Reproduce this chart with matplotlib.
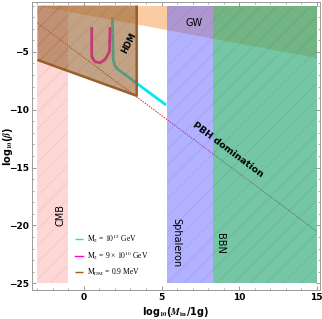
import matplotlib
matplotlib.use('Agg')
import matplotlib.pyplot as plt
from matplotlib.ticker import MultipleLocator

# ---- data ----
cmb_x = [-3, -1]
sph_x = [5.35, 8.3]
bbn_x = [8.3, 15]
band_y = [-25, -1]
gw_x = [-3, 15]
gw_lower = [-1.0, -5.5]
hdm_x = [-3, 3.4, 3.4, -3]
hdm_y = [-1, -1, -8.8, -5.7]
pbh_x = [-3, 15]
pbh_y = [-2.5, -20.5]
cyan_x = [1.83, 1.86, 1.89, 1.98, 2.11, 2.76, 3.4, 5.3]
cyan_y = [-1.98, -4.0, -5.72, -6.15, -6.43, -7.08, -7.72, -9.6]
mag_x = [0.50, 0.50, 0.71, 1.03, 1.36, 1.64, 1.68]
mag_y = [-2.98, -5.43, -5.86, -5.95, -5.66, -5.0, -2.98]
xticks = [0, 5, 10, 15]
yticks = [-5, -10, -15, -20, -25]
legend_labels = [r'$\mathrm{M_2}$ = $\mathrm{10^{12}}$ GeV',
                 r'$\mathrm{M_2}$ = 9 × $\mathrm{10^{10}}$ GeV',
                 r'$\mathrm{M_{DM}}$ = 0.9 MeV']

plt.rcParams['mathtext.fontset'] = 'stix'
plt.rcParams['hatch.linewidth'] = 0.5

fig = plt.figure(figsize=(3.22, 3.19), dpi=100)
ax = fig.add_axes([0.0994, 0.0909, 0.893, 0.904])

mesh = dict(facecolor='none', edgecolor=(0, 0, 0, 0.08), hatch='//', lw=0)

# PBH domination line (underneath shaded regions)
ax.plot(pbh_x, pbh_y, color='#e02020', lw=0.7, ls=(0, (1.5, 1.2)), zorder=1)
l_c, = ax.plot(cyan_x, cyan_y, color='#00e8f0', lw=2.0, zorder=1.5, solid_capstyle='butt')
l_m, = ax.plot(mag_x, mag_y, color='#ff00d8', lw=2.0, zorder=1.5)

# regions
ax.fill_between(cmb_x, band_y[0], band_y[1], color='#ff8a8a', alpha=0.35, lw=0, zorder=2)
ax.fill_between(gw_x, gw_lower, band_y[1], color='#f59a45', alpha=0.5, lw=0, zorder=2.1)
ax.fill_between(sph_x, band_y[0], band_y[1], color='#6464ff', alpha=0.5, lw=0, zorder=2.2)
ax.fill_between(bbn_x, band_y[0], band_y[1], color='#2aa874', alpha=0.65, lw=0, zorder=2.3)
ax.fill(hdm_x, hdm_y, color='#9a6432', alpha=0.6, lw=0, zorder=2.4)
l_h, = ax.plot(hdm_x[1:], hdm_y[1:], color='#9a5e2a', lw=1.8, zorder=2.5, solid_capstyle='butt')

# faint mesh on shaded regions
ax.fill_between(cmb_x, band_y[0], band_y[1], zorder=2.6, **mesh)
ax.fill_between([sph_x[0], bbn_x[1]], band_y[0], band_y[1], zorder=2.6, **mesh)
ax.fill(hdm_x, hdm_y, zorder=2.6, **mesh)

# labels
ax.text(7.11, -2.52, 'GW', fontsize=7, ha='center', va='center', zorder=5)
ax.text(-1.49, -19.1, 'CMB', fontsize=7, rotation=90, ha='center', va='center', zorder=5)
ax.text(5.95, -21.5, 'Sphaleron', fontsize=7, rotation=-90, ha='center', va='center', zorder=5)
ax.text(8.75, -21.55, 'BBN', fontsize=7, rotation=-90, ha='center', va='center', zorder=5)
ax.text(9.3, -13.5, 'PBH domination', fontsize=6.8, fontweight='bold', rotation=-36.8,
        ha='center', va='center', rotation_mode='anchor', zorder=5)
ax.text(2.91, -4.25, 'HDM', fontsize=6, fontweight='bold', rotation=63,
        ha='center', va='center', rotation_mode='anchor', zorder=5)

ax.set_xlim(-3.35, 15.19)
ax.set_ylim(-25.58, -0.665)
ax.set_xticks(xticks)
ax.set_yticks(yticks)
ax.xaxis.set_minor_locator(MultipleLocator(1))
ax.yaxis.set_minor_locator(MultipleLocator(1))
ax.tick_params(which='both', direction='in', top=True, right=True, color='#888888',
               labelsize=6.5, pad=2)
ax.tick_params(which='major', length=3, width=0.6)
ax.tick_params(which='minor', length=1.5, width=0.5)
for lbl in ax.get_xticklabels() + ax.get_yticklabels():
    lbl.set_fontweight('bold')
for s in ax.spines.values():
    s.set_color('#999999')
    s.set_linewidth(0.7)

ax.set_xlabel(r'log$_{\mathbf{10}}$($\boldsymbol{M}_{\mathbf{in}}$/1g)', fontsize=7, fontweight='bold')
ax.set_ylabel(r'log$_{\mathbf{10}}$($\boldsymbol{\beta}$)', fontsize=7, fontweight='bold')
ax.xaxis.set_label_coords(0.5, -0.052)
ax.yaxis.set_label_coords(-0.06, 0.5)

leg = ax.legend([l_c, l_m, l_h], legend_labels, loc='upper left', bbox_to_anchor=(0.14, 0.21),
                frameon=False, prop={'family': 'Liberation Serif', 'size': 5.5},
                handlelength=1.0, handletextpad=0.5, labelspacing=0.6, borderaxespad=0)
for h in leg.get_lines():
    h.set_linewidth(1.0)

fig.savefig('out.png', dpi=100)
